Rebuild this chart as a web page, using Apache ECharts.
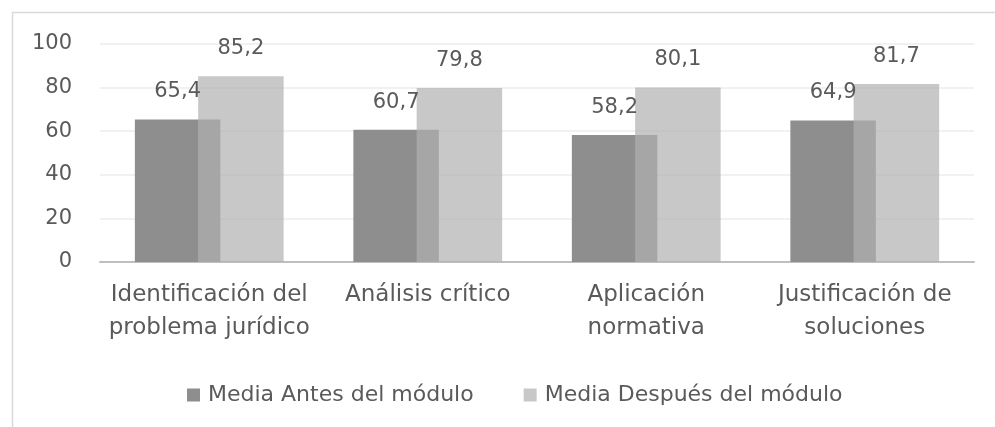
<!DOCTYPE html>
<html>
<head>
<meta charset="utf-8">
<script src="https://cdn.jsdelivr.net/npm/echarts@6/dist/echarts.min.js"></script>
<style>html,body{margin:0;padding:0;background:#fff;}#c{width:995px;height:427px;}</style>
</head>
<body>
<div id="c"></div>
<script>
const categories = ["Identificación del\nproblema jurídico", "Análisis crítico", "Aplicación\nnormativa", "Justificación de\nsoluciones"];
const seriesNames = ["Media Antes del módulo", "Media Después del módulo"];
const antes = [65.4, 60.7, 58.2, 64.9];
const despues = [85.2, 79.8, 80.1, 81.7];
const yTicks = [0, 20, 40, 60, 80, 100];

const FONT = "DejaVu Sans";
const TXT = "#5a5a5a";
const chart = echarts.init(document.getElementById('c'), null, {renderer: 'canvas'});
const fmt = p => String(p.value).replace('.', ',');
chart.setOption({
  animation: false,
  backgroundColor: '#fff',
  graphic: [{
    type: 'rect', silent: true, z: -10,
    shape: {x: 12.5, y: 12.5, width: 1100, height: 600},
    style: {fill: 'none', stroke: '#d9d9d9', lineWidth: 1.5}
  }],
  grid: {left: 100, right: 21, top: 44, bottom: 165},
  legend: {
    left: 182, top: 379,
    itemWidth: 13, itemHeight: 13, itemGap: 50,
    icon: 'rect',
    textStyle: {fontFamily: FONT, fontSize: 22, color: TXT, padding: [0, 0, 0, 3]},
    data: seriesNames
  },
  xAxis: {
    type: 'category',
    data: categories,
    axisLine: {show: true, lineStyle: {color: '#bfbfbf', width: 2}},
    axisTick: {show: false},
    axisLabel: {fontFamily: FONT, fontSize: 23, color: TXT, lineHeight: 33, margin: 17, interval: 0}
  },
  yAxis: {
    type: 'value', min: yTicks[0], max: yTicks[yTicks.length - 1], interval: 20,
    axisLine: {show: false}, axisTick: {show: false},
    axisLabel: {fontFamily: FONT, fontSize: 21, color: TXT, margin: 28},
    splitLine: {lineStyle: {color: '#ececec', width: 1.5}}
  },
  series: [{
    name: seriesNames[0], type: 'bar', data: antes,
    barWidth: 85.5, barGap: '-26%',
    itemStyle: {color: '#8e8e8e'},
    label: {show: true, position: 'top', distance: 17, formatter: fmt, fontFamily: FONT, fontSize: 21, color: TXT}
  }, {
    name: seriesNames[1], type: 'bar', data: despues,
    barWidth: 85.5, barGap: '-26%',
    itemStyle: {color: 'rgba(177,177,177,0.7)'},
    label: {show: true, position: 'top', distance: 17, formatter: fmt, fontFamily: FONT, fontSize: 21, color: TXT}
  }]
});
</script>
</body>
</html>
